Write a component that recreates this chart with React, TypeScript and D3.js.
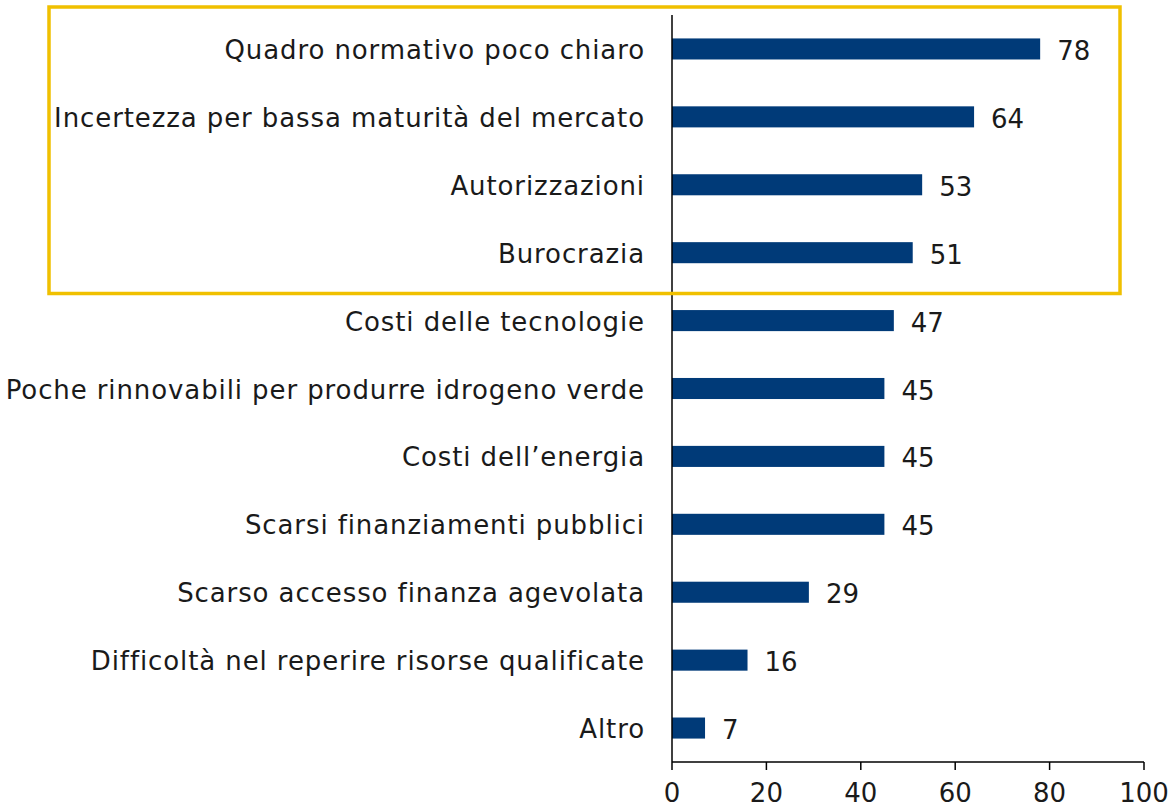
import React from "react";
import * as d3 from "d3";

const categories = [
  "Quadro normativo poco chiaro",
  "Incertezza per bassa maturità del mercato",
  "Autorizzazioni",
  "Burocrazia",
  "Costi delle tecnologie",
  "Poche rinnovabili per produrre idrogeno verde",
  "Costi dell’energia",
  "Scarsi finanziamenti pubblici",
  "Scarso accesso finanza agevolata",
  "Difficoltà nel reperire risorse qualificate",
  "Altro ",
];
const values = [78, 64, 53, 51, 47, 45, 45, 45, 29, 16, 7];
const ticks = [0, 20, 40, 60, 80, 100];

const W = 1171;
const H = 809;
const FONT = "'DejaVu Sans', sans-serif";

export default function App() {
  const x = d3.scaleLinear().domain([0, 100]).range([672, 1144]);
  const y = d3
    .scaleBand<string>()
    .domain(categories)
    .range([15, 762])
    .paddingInner(0.69)
    .paddingOuter(0.345);
  const bh = y.bandwidth();
  const x0 = x(0);
  const axisY = 762;

  return (
    <svg
      width={W}
      height={H}
      style={{ position: "absolute", left: 0, top: 0, background: "#fff" }}
      fontFamily={FONT}
    >
      {categories.map((c, i) => {
        const yc = (y(c) as number) + bh / 2;
        return (
          <g key={c}>
            <rect
              x={x0}
              y={y(c)}
              width={x(values[i]) - x0}
              height={bh}
              fill="#003A78"
            />
            <text
              x={645}
              y={yc + 10}
              textAnchor="end"
              fontSize={26}
              letterSpacing={0.9}
              fill="#1a1a1a"
            >
              {c}
            </text>
            <text x={x(values[i]) + 17} y={yc + 11} fontSize={26} fill="#1a1a1a">
              {values[i]}
            </text>
          </g>
        );
      })}
      <line x1={x0} x2={x0} y1={15} y2={axisY} stroke="#000" strokeWidth={1.5} />
      <line x1={x0} x2={x(100)} y1={axisY} y2={axisY} stroke="#000" strokeWidth={1.5} />
      {ticks.map((t) => (
        <g key={t}>
          <line x1={x(t)} x2={x(t)} y1={axisY} y2={770} stroke="#000" strokeWidth={1.5} />
          <text x={x(t)} y={802} textAnchor="middle" fontSize={26} fill="#1a1a1a">
            {t}
          </text>
        </g>
      ))}
      <rect
        x={49}
        y={7}
        width={1071}
        height={286.5}
        fill="none"
        stroke="#F0C000"
        strokeWidth={3.5}
      />
    </svg>
  );
}
